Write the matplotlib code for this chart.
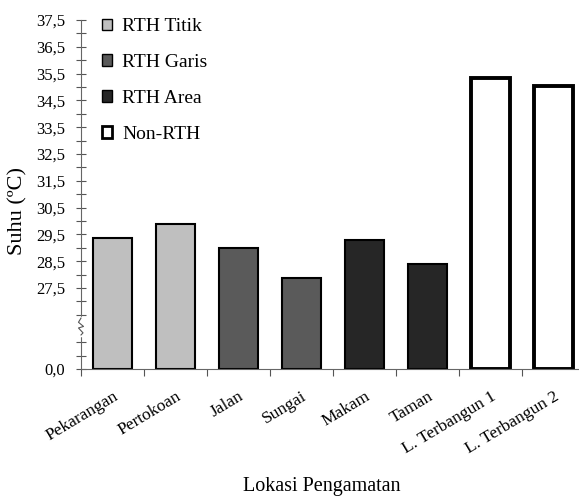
import numpy as np
import matplotlib.pyplot as plt
from matplotlib.patches import Patch

# ----------------------------
# Data
# ----------------------------
lokasi = ["Pekarangan", "Pertokoan", "Jalan", "Sungai", "Makam", "Taman",
          "L. Terbangun 1", "L. Terbangun 2"]
suhu = [29.38, 29.89, 28.98, 27.88, 29.29, 28.40, 35.32, 35.05]
kelompok = ["RTH Titik", "RTH Titik", "RTH Garis", "RTH Garis",
            "RTH Area", "RTH Area", "Non-RTH", "Non-RTH"]
kelompok_order = ["RTH Titik", "RTH Garis", "RTH Area", "Non-RTH"]
warna = {"RTH Titik": "#bfbfbf", "RTH Garis": "#5a5a5a",
         "RTH Area": "#262626", "Non-RTH": "#ffffff"}
tebal = {"RTH Titik": 1.5, "RTH Garis": 1.5, "RTH Area": 1.5, "Non-RTH": 2.8}
y_labels = [0.0] + [27.5 + i for i in range(11)]

plt.rcParams["font.family"] = ["Liberation Serif", "DejaVu Serif"]

# ----------------------------
# Broken y scale: 0 .. 26.5 squeezed into a short band
# ----------------------------
BRK = 26.5
ZERO = 24.48


def fwd(v):
    v = np.asarray(v, dtype=float)
    return np.where(v >= BRK, v, ZERO + v * (BRK - ZERO) / BRK)


def inv(d):
    d = np.asarray(d, dtype=float)
    return np.where(d >= BRK, d, (d - ZERO) * BRK / (BRK - ZERO))


fig = plt.figure(figsize=(5.79, 5.01), dpi=100)
ax = fig.add_axes([81 / 579, 132 / 501, 504 / 579, 349 / 501])
ax.set_yscale("function", functions=(fwd, inv))

x = np.arange(len(lokasi))
for i, (v, k) in enumerate(zip(suhu, kelompok)):
    ax.bar(x[i], v, width=0.62, color=warna[k], edgecolor="black",
           linewidth=tebal[k], zorder=2)

ax.set_xlim(-0.5, 7.5)
ax.set_ylim(0, 37.5)

ax.set_yticks(y_labels)
ax.set_yticklabels([f"{v:.1f}".replace(".", ",") for v in y_labels], fontsize=12)
minor = [float(inv(ZERO + 0.5)), float(inv(ZERO + 1.0)), 26.5] + [27.0 + i for i in range(11)]
ax.set_yticks(minor, minor=True)
ax.tick_params(axis="y", which="both", direction="inout", length=7, width=0.8,
               color="#555555", pad=8)

ax.set_xticks(np.arange(-0.5, 8, 1.0))
ax.set_xticklabels([])
ax.set_xticks(x, minor=True)
ax.set_xticklabels(lokasi, minor=True, rotation=31, ha="right",
                   rotation_mode="anchor", fontsize=12.5)
ax.tick_params(axis="x", which="major", direction="out", length=5,
               width=0.8, color="#555555")
ax.tick_params(axis="x", which="minor", length=0, pad=14)

for s in ["top", "right"]:
    ax.spines[s].set_visible(False)
for s in ["left", "bottom"]:
    ax.spines[s].set_color("#666666")
    ax.spines[s].set_linewidth(0.8)

# break mark on the y spine
f_hi = (26.38 - ZERO) / (37.5 - ZERO)
f_lo = (25.75 - ZERO) / (37.5 - ZERO)
ax.plot([0, 0], [f_lo, f_hi], transform=ax.transAxes, color="white",
        lw=2.5, clip_on=False, zorder=5)
ax.plot([0.0, -0.005, 0.005, -0.005, 0.004, 0.0],
        [f_hi, f_hi - 0.012, f_hi - 0.024, f_lo + 0.02, f_lo + 0.006, f_lo],
        transform=ax.transAxes, color="#555555", lw=0.8, clip_on=False, zorder=6)

ax.set_ylabel("Suhu (ºC)", fontsize=16)
ax.yaxis.set_label_coords(-(81 - 27) / 504, (369 - 211) / 349)
ax.set_xlabel("Lokasi Pengamatan", fontsize=14.5)
ax.xaxis.set_label_coords((322 - 81) / 504, -(477 - 369) / 349)

handles = [Patch(facecolor=warna[k], edgecolor="black",
                 linewidth=2.0 if k == "Non-RTH" else 1.0) for k in kelompok_order]
ax.legend(handles, kelompok_order, loc="upper left",
          bbox_to_anchor=(3 / 504, 1.055), frameon=False, fontsize=14,
          handlelength=0.55, handleheight=0.55, handletextpad=0.5,
          labelspacing=0.97)

fig.savefig("out.png", dpi=100)
